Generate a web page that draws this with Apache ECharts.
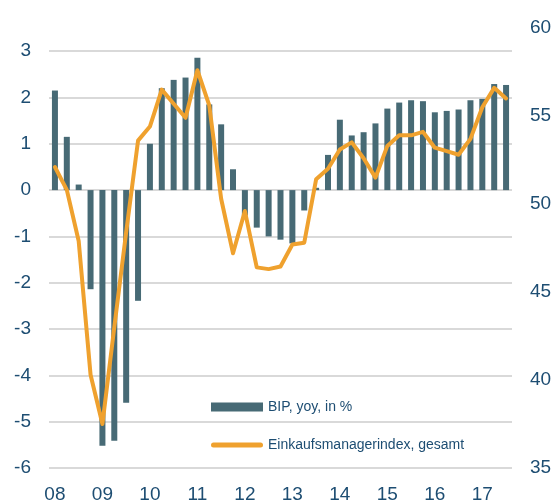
<!DOCTYPE html>
<html>
<head>
<meta charset="utf-8">
<script src="https://cdn.jsdelivr.net/npm/echarts@6/dist/echarts.min.js"></script>
<style>
  html, body { margin: 0; padding: 0; background: #fff; }
  #chart { width: 555px; height: 504px; }
</style>
</head>
<body>
<div id="chart"></div>
<script>
// Quartale 2008 Q1 .. 2017 Q3
var years = ['08', '09', '10', '11', '12', '13', '14', '15', '16', '17'];
var quarters = [];
years.forEach(function (y) {
    for (var q = 1; q <= 4; q++) quarters.push(y + 'Q' + q);
});
quarters = quarters.slice(0, 39);

// BIP, yoy, in %
var bip = [2.15, 1.15, 0.12, -2.14, -5.52, -5.41, -4.59, -2.39,
           1.0, 2.2, 2.38, 2.43, 2.86, 1.85, 1.42, 0.45,
           -0.55, -0.81, -1.0, -1.07, -1.15, -0.44, 0.05, 0.76,
           1.52, 1.18, 1.25, 1.44, 1.76, 1.89, 1.94, 1.92,
           1.68, 1.71, 1.74, 1.94, 1.97, 2.29, 2.27];

// Einkaufsmanagerindex, gesamt
var pmi = [52.1, 50.8, 47.9, 40.3, 37.5, 43.0, 48.4, 53.6,
           54.4, 56.5, 55.7, 54.9, 57.6, 55.6, 50.3, 47.2,
           49.6, 46.4, 46.3, 46.45, 47.7, 47.8, 51.4, 52.0,
           53.1, 53.5, 52.6, 51.5, 53.3, 53.9, 53.9, 54.1,
           53.2, 53.0, 52.8, 53.7, 55.5, 56.6, 56.0];

var textColor = '#1d4d72';
var font = 'Liberation Sans, Arial, sans-serif';
var orange = '#efa12e';

var chart = echarts.init(document.getElementById('chart'));
chart.setOption({
    animation: false,
    textStyle: { fontFamily: font },
    grid: { left: 49, right: 43, top: 28, bottom: 32 },
    legend: {
        orient: 'vertical',
        left: 206,
        top: 395,
        itemWidth: 52,
        itemHeight: 9,
        itemGap: 24,
        textStyle: { color: textColor, fontSize: 14, fontFamily: font },
        data: [
            { name: 'BIP, yoy, in %', icon: 'rect' },
            {
                name: 'Einkaufsmanagerindex, gesamt',
                // flacher Strich mit runden Enden
                icon: 'path://M2.5,0 H49.5 A2.5,2.5 0 0 1 49.5,5 H2.5 A2.5,2.5 0 0 1 2.5,0 Z',
                itemStyle: { color: orange }
            }
        ]
    },
    xAxis: {
        type: 'category',
        data: quarters,
        axisLine: { show: false },
        axisTick: { show: false },
        axisLabel: {
            interval: 3,
            color: textColor,
            fontSize: 19,
            margin: 17,
            formatter: function (v) { return v.slice(0, 2); }
        }
    },
    yAxis: [
        {
            type: 'value',
            min: -6,
            max: 3.5,
            interval: 1,
            axisLine: { show: false },
            axisTick: { show: false },
            axisLabel: { color: textColor, fontSize: 19, margin: 18, showMaxLabel: false },
            splitLine: { showMaxLine: false, lineStyle: { color: '#d9d9d9', width: 2 } }
        },
        {
            type: 'value',
            min: 35,
            max: 60,
            interval: 5,
            axisLine: { show: false },
            axisTick: { show: false },
            axisLabel: { color: textColor, fontSize: 19, margin: 18 },
            splitLine: { show: false }
        }
    ],
    series: [
        {
            name: 'BIP, yoy, in %',
            type: 'bar',
            yAxisIndex: 0,
            barWidth: 6,
            itemStyle: { color: '#476a75' },
            data: bip
        },
        {
            name: 'Einkaufsmanagerindex, gesamt',
            type: 'line',
            yAxisIndex: 1,
            symbol: 'none',
            lineStyle: { color: orange, width: 4, cap: 'round', join: 'round' },
            itemStyle: { color: orange },
            data: pmi
        }
    ]
});
</script>
</body>
</html>
